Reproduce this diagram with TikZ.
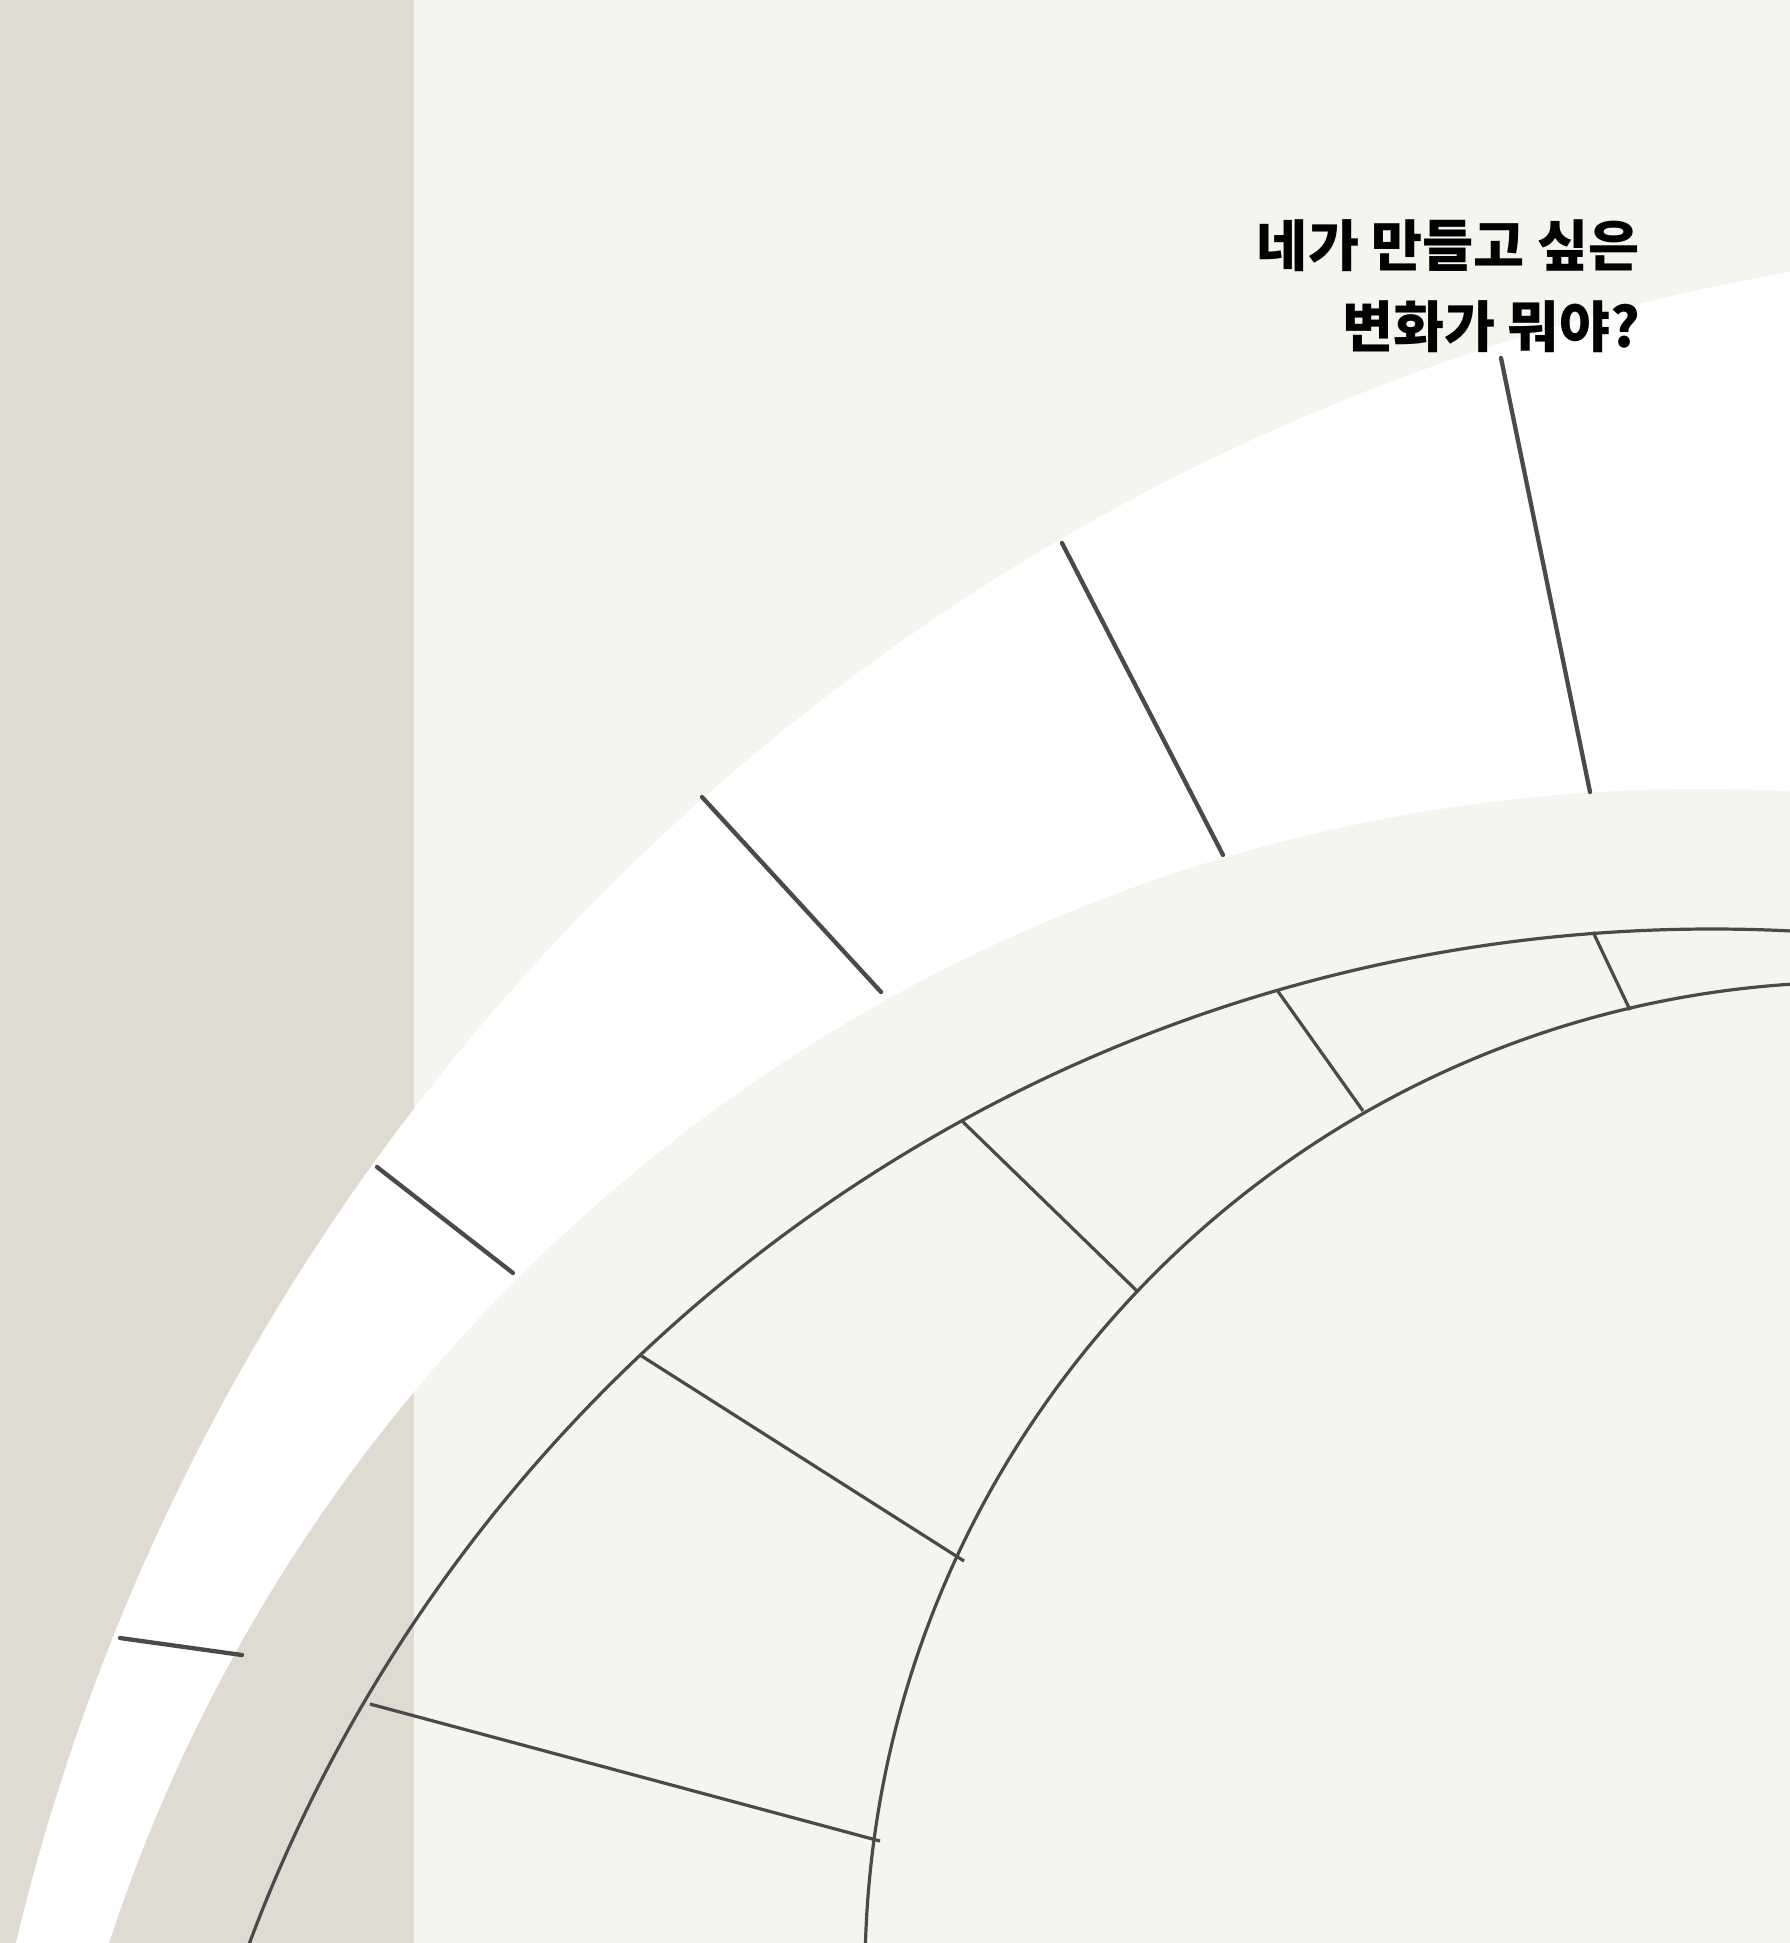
\documentclass[tikz,border=0pt]{standalone}
\usepackage{fontspec}
\newfontfamily\krfont{Noto Sans CJK KR}
\definecolor{bg}{HTML}{F4F5EE}
\definecolor{band}{HTML}{DFDBD1}
\definecolor{ink}{HTML}{4A4A4A}
\begin{document}
\begin{tikzpicture}[x=1pt,y=-1pt,line join=round]
\tikzset{
  ringline/.style={draw=ink, line width=4.3pt, line cap=round},
  thinline/.style={draw=ink, line width=3.2pt},
  question/.style={anchor=base east, inner sep=0pt, text=black, font=\krfont\bfseries\fontsize{55.5pt}{64pt}\selectfont}
}
\useasboundingbox (0,0) rectangle (1790,1943);
\clip (0,0) rectangle (1790,1943);
\fill[bg] (0,0) rectangle (1790,1943);
\fill[band] (0,0) rectangle (414,1943);
% white band
\fill[white, even odd rule] (2179,2462) circle[radius=2224pt] (1700,2462) circle[radius=1673pt];
% grey ring
\draw[thinline] (1712,2490) circle[radius=1561pt];
\draw[thinline] (1857,1974) circle[radius=992pt];
% dividers in white band
\coordinate (a1) at (1501,358);   \coordinate (b1) at (1590,792);
\coordinate (a2) at (1062,543);   \coordinate (b2) at (1223,855);
\coordinate (a3) at (702,797);    \coordinate (b3) at (881,992);
\coordinate (a4) at (377,1167);   \coordinate (b4) at (513,1273);
\coordinate (a5) at (120,1638);   \coordinate (b5) at (242,1655);
\foreach \i in {1,...,5} \draw[ringline] (a\i) -- (b\i);
% dividers in grey ring
\coordinate (c1) at (1593,932);   \coordinate (d1) at (1630,1010);
\coordinate (c2) at (1277,990);   \coordinate (d2) at (1363,1111);
\coordinate (c3) at (961,1120);   \coordinate (d3) at (1137,1291);
\coordinate (c4) at (640,1355);   \coordinate (d4) at (964,1561);
\coordinate (c5) at (370,1704);   \coordinate (d5) at (880,1841);
\foreach \i in {1,...,5} \draw[thinline] (c\i) -- (d\i);
% question
\node[question] (q1) at (1640,266) {네가 만들고 싶은};
\node[question] (q2) at (1640,347) {변화가 뭐야?};
\end{tikzpicture}
\end{document}
